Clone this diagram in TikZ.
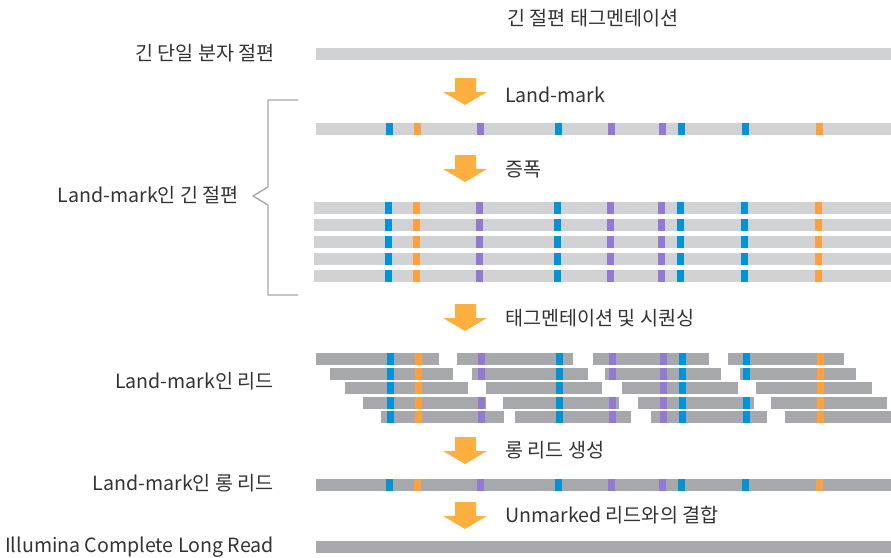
\documentclass[tikz,border=0pt]{standalone}
\usepackage{fontspec}
\setmainfont{Noto Sans CJK KR}
\definecolor{lgray}{HTML}{D1D2D4}
\definecolor{dgray}{HTML}{A7A8AB}
\definecolor{mblue}{HTML}{0093D7}
\definecolor{morange}{HTML}{FFA040}
\definecolor{mpurple}{HTML}{9379D3}
\definecolor{arrowc}{HTML}{FDB040}
\definecolor{txt}{HTML}{333333}
\definecolor{bracec}{HTML}{A7A8AB}
\newcommand\markset[3]{% y, height, x offset
  \foreach \mx/\mc in {386/mblue,414/morange,477/mpurple,555/mblue,608/mpurple,659/mpurple,678/mblue,742/mblue,816/morange}{%
    \fill[\mc] ({\mx+#3},#1) rectangle ++(7,#2);}}
\newcommand\readseg[3]{% x1, x2, y
  \begin{scope}
    \clip (#1,#3) rectangle (#2,#3+12);
    \fill[dgray] (#1,#3) rectangle (#2,#3+12);
    \markset{#3}{12}{1}
  \end{scope}}
\newcommand\blockarrow[1]{% top y
  \fill[arrowc] (455,#1) -- (476,#1) -- (476,#1+14) -- (487,#1+14) -- (465,#1+27) -- (443,#1+14) -- (455,#1+14) -- cycle;}
\begin{document}
\begin{tikzpicture}[x=1pt,y=-1pt,
  lbl/.style={font=\fontsize{19.6}{22}\selectfont, text=txt, inner sep=0pt}]
\useasboundingbox (0,0) rectangle (891,557);
% title
\node[lbl] (title) at (593,18) {긴 절편 태그멘테이션};
% row 1
\node[lbl, anchor=east] (l1) at (275,53) {긴 단일 분자 절편};
\fill[lgray] (316,48) rectangle (891,60);
% arrow 1
\blockarrow{78}
\node[lbl, anchor=west] (s1) at (505,95) {Land-mark};
% row 2
\fill[lgray] (316,123) rectangle (891,135);
\begin{scope}\clip (316,123) rectangle (891,135); \markset{123}{12}{0} \end{scope}
% arrow 2
\blockarrow{155}
\node[lbl, anchor=west] (s2) at (505,169) {증폭};
% amplified
\foreach \yy in {202,219,236,253,270}{
  \fill[lgray] (314,\yy) rectangle (891,\yy+12);
  \markset{\yy}{12}{-1.5}
}
% brace
\draw[bracec, line width=1.3pt] (298,100) -- (268,100) -- (268,187) -- (253,196) -- (268,205) -- (268,295) -- (298,295);
\node[lbl, anchor=east] (l2) at (239,195) {Land-mark인 긴 절편};
% arrow 3
\blockarrow{304}
\node[lbl, anchor=west] (s3) at (505,318) {태그멘테이션 및 시퀀싱};
% reads
\readseg{316}{439}{353}\readseg{457}{573}{353}\readseg{593}{709}{353}\readseg{728}{844}{353}
\readseg{330}{453}{367.5}\readseg{472}{588}{367.5}\readseg{605}{721}{367.5}\readseg{740}{856}{367.5}
\readseg{345}{468}{382}\readseg{486}{602}{382}\readseg{622}{738}{382}\readseg{756}{872}{382}
\readseg{363}{486}{396.5}\readseg{503}{619}{396.5}\readseg{638}{754}{396.5}\readseg{771}{887}{396.5}
\readseg{381}{504}{411}\readseg{515}{631}{411}\readseg{651}{767}{411}\readseg{785}{891}{411}
\node[lbl, anchor=east] (l3) at (274,381) {Land-mark인 리드};
% arrow 4
\blockarrow{437}
\node[lbl, anchor=west] (s4) at (505,450) {롱 리드 생성};
% long read
\fill[dgray] (316,479) rectangle (891,491);
\markset{479}{12}{0}
\node[lbl, anchor=east] (l4) at (274,483) {Land-mark인 롱 리드};
% arrow 5
\blockarrow{502}
\node[lbl, anchor=west] (s5) at (505,515) {Unmarked 리드와의 결합};
% final
\fill[dgray] (316,541) rectangle (891,553);
\node[lbl, anchor=east] (l5) at (274,547) {Illumina Complete Long Read};
\end{tikzpicture}
\end{document}
